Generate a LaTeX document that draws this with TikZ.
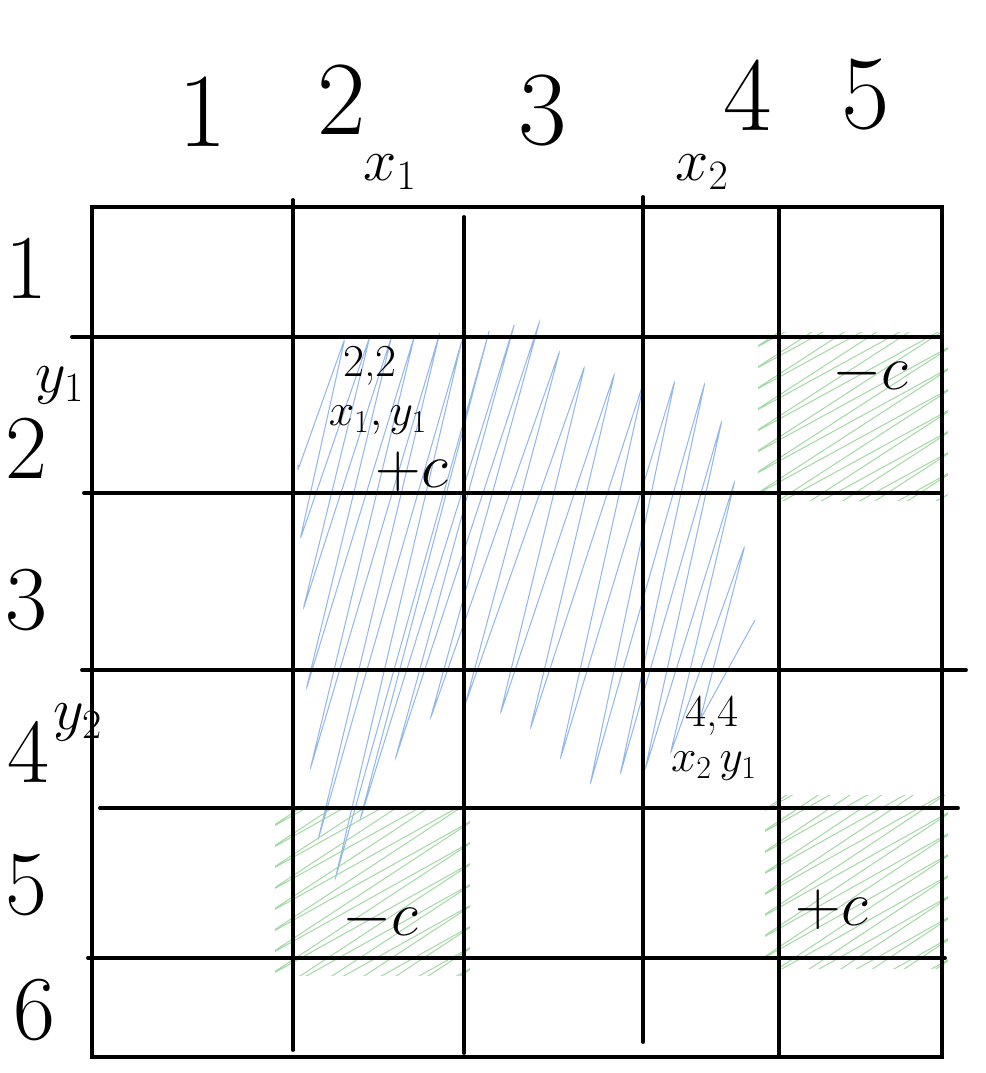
\RequirePackage{fix-cm}
\documentclass[tikz,border=0pt]{standalone}
\usepackage{fontspec}
\usepackage{tikz}
\usetikzlibrary{positioning}
\definecolor{HatchBlue}{RGB}{130,172,232}
\definecolor{HatchGreen}{RGB}{150,212,150}

\begin{document}
\begin{tikzpicture}[
    x=0.02cm, y=-0.02cm,
    gridline/.style={line width=2.2pt, line cap=round},
    bighand/.style={font=\fontsize{60}{60}\selectfont, inner sep=0pt},
    rowhand/.style={font=\fontsize{52}{52}\selectfont, inner sep=0pt},
    sublabel/.style={font=\fontsize{34}{34}\selectfont, inner sep=0pt},
    celltext/.style={font=\fontsize{26}{26}\selectfont, inner sep=0pt},
    signtext/.style={font=\fontsize{36}{36}\selectfont, inner sep=0pt},
    bluehatch/.style={draw=HatchBlue, line width=0.6pt, opacity=0.85, rounded corners=3pt},
    greenhatch/.style={draw=HatchGreen, line width=0.6pt, opacity=0.85, rounded corners=2pt}
]
\useasboundingbox (0,0) rectangle (985,1073);

\draw[bluehatch] (298,470)
  \foreach \bx/\by/\tx/\ty in {298/470/345/338, 300/540/370/336, 303/610/392/335,
    306/690/415/334, 310/770/440/332, 318/840/462/340, 335/880/490/328,
    360/820/515/322, 395/760/540/320, 430/720/560/350, 465/705/585/365,
    500/715/615/372, 530/730/645/378, 560/760/675/380, 590/785/705/382,
    620/775/722/420, 645/770/735/480, 670/755/745/545, 700/720/755/620}
  { -- (\bx,\by) -- (\tx,\ty) };

\begin{scope}
\clip (758,332) rectangle (948,500);
\draw[greenhatch] (750,330)
  \foreach \k in {0,...,13} { -- (750,{330+\k*21}) -- (960,{215+\k*21}) };
\end{scope}
\begin{scope}
\clip (275,810) rectangle (470,975);
\draw[greenhatch] (265,810)
  \foreach \k in {0,...,14} { -- (265,{810+\k*21}) -- (480,{690+\k*21}) };
\end{scope}
\begin{scope}
\clip (765,795) rectangle (948,968);
\draw[greenhatch] (755,795)
  \foreach \k in {0,...,14} { -- (755,{795+\k*21}) -- (960,{680+\k*21}) };
\end{scope}

\draw[gridline] (92,207) rectangle (942,1057);
\draw[gridline] (293,200) -- (293,1050);
\draw[gridline] (464,217) -- (464,1053);
\draw[gridline] (643,197) -- (643,1042);
\draw[gridline] (779,207) -- (779,1057);
\draw[gridline] (72,337) -- (942,337);
\draw[gridline] (84,493) -- (942,493);
\draw[gridline] (82,670) -- (966,670);
\draw[gridline] (100,808) -- (958,808);
\draw[gridline] (88,958) -- (945,958);

\node[bighand] (col1) at (203,112) {1};
\node[bighand] (col2) at (342,100) {2};
\node[bighand] (col3) at (543,110) {3};
\node[bighand] (col4) at (748,95) {4};
\node[bighand] (col5) at (866,95) {5};
\node[sublabel] (x1) at (390,172) {$x_1$};
\node[sublabel] (x2) at (702,172) {$x_2$};

\node[rowhand] (row1) at (26,268) {1};
\node[rowhand] (row2) at (26,448) {2};
\node[rowhand] (row3) at (26,600) {3};
\node[rowhand] (row4) at (28,752) {4};
\node[rowhand] (row5) at (26,885) {5};
\node[rowhand] (row6) at (34,1010) {6};
\node[sublabel] (y1) at (60,385) {$y_1$};
\node[sublabel] (y2) at (78,722) {$y_2$};

\node[celltext] (pair22) at (370,366) {2,2};
\node[celltext] (pos22) at (378,420) {$x_1,y_1$};
\node[signtext] (sign22) at (412,472) {$+c$};
\node[celltext] (pair44) at (712,716) {4,4};
\node[celltext] (pos44) at (714,766) {$x_2\,y_1$};
\node[signtext] (sign25) at (870,374) {$-c$};
\node[signtext] (sign52) at (380,920) {$-c$};
\node[signtext] (sign55) at (832,910) {$+c$};
\end{tikzpicture}
\end{document}
